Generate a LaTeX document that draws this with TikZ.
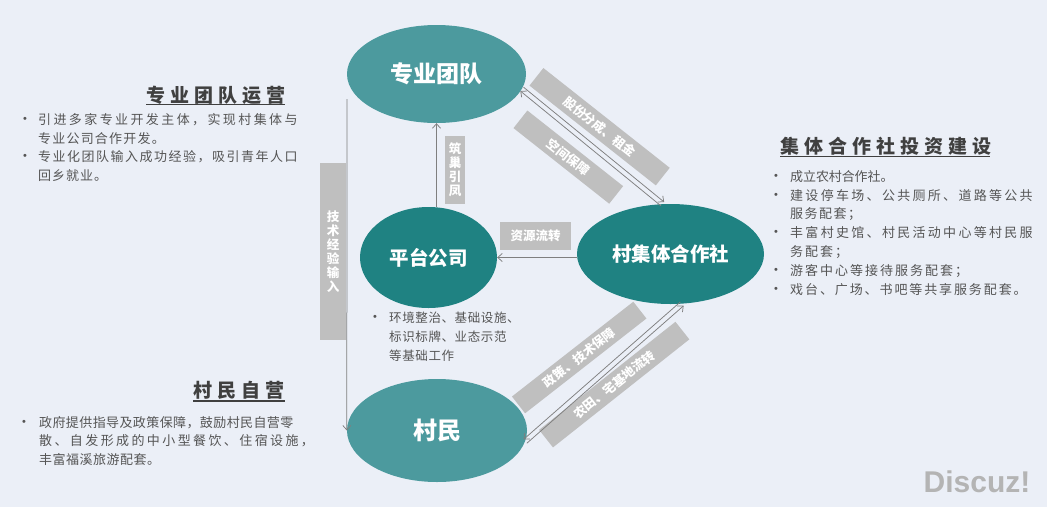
\documentclass[tikz,border=0pt]{standalone}
\usepackage{fontspec}
\setmainfont{Noto Sans CJK SC}
\newfontfamily\latinb{Liberation Sans}
\usetikzlibrary{shapes.geometric,arrows.meta}
\definecolor{bgc}{HTML}{EBEFF7}
\definecolor{tealL}{HTML}{4C9A9E}
\definecolor{tealD}{HTML}{1F8282}
\definecolor{boxc}{HTML}{BFBFBF}
\definecolor{arrc}{HTML}{7F7F7F}
\definecolor{hdc}{HTML}{404040}
\definecolor{txc}{HTML}{555555}
\definecolor{wmc}{HTML}{B4B4B4}
\makeatletter
\def\cg@loop#1{\ifx\@nil#1\else\makebox[\cg@w pt][l]{#1}\expandafter\cg@loop\fi}
\newcommand\cg[2]{\def\cg@w{#1}\cg@loop#2\@nil}
\makeatother
\begin{document}
\begin{tikzpicture}[x=1pt,y=-1pt,
  ellL/.style={ellipse, fill=tealL, inner sep=0pt, text=white},
  ellD/.style={ellipse, fill=tealD, inner sep=0pt, text=white},
  gbox/.style={fill=boxc, inner sep=0pt, text=white, font=\bfseries\fontsize{12.5}{14}\selectfont},
  arr/.style={draw=arrc, line width=0.75pt, -{Straight Barb[length=4.5pt,width=8pt]}},
  hd/.style={anchor=west, inner sep=0pt, text=hdc, font=\bfseries\fontsize{19}{22}\selectfont},
  ul/.style={draw=hdc, line width=1.3pt},
  lst/.style={anchor=west, inner sep=0pt, text=txc, font=\fontsize{13}{15}\selectfont},
  captxt/.style={anchor=west, inner sep=0pt, text=txc, font=\fontsize{12.5}{15}\selectfont},
  bul/.style={inner sep=0pt, text=txc, font=\latinb\fontsize{11}{11}\selectfont}
]
\fill[bgc] (0,0) rectangle (1047,507);
\useasboundingbox (0,0) rectangle (1047,507);

% ellipses
\node[ellL, minimum width=179pt, minimum height=98pt, font=\bfseries\fontsize{23}{26}\selectfont] (zy) at (436.5,74) {专业团队};
\node[ellD, minimum width=137pt, minimum height=101pt, font=\bfseries\fontsize{19.5}{22}\selectfont] (pt) at (428.5,257.5) {平台公司};
\node[ellD, minimum width=187pt, minimum height=100pt, font=\bfseries\fontsize{19.5}{22}\selectfont] (cj) at (670.5,254) {村集体合作社};
\node[ellL, minimum width=180pt, minimum height=103pt, font=\bfseries\fontsize{24}{26}\selectfont] (cm) at (437,430.5) {村民};

% gray label boxes
\node[gbox, minimum width=26pt, minimum height=177pt, align=center] (jsb) at (333,251.5) {技\\术\\经\\验\\输\\入};
\node[gbox, minimum width=20pt, minimum height=68pt, align=center] (zcb) at (455,170) {筑\\巢\\引\\凤};
\node[gbox, minimum width=71pt, minimum height=28pt] (zyb) at (535.5,236) {资源流转};
\node[gbox, minimum width=161pt, minimum height=22.4pt, rotate=-38.3] (gfb) at (599.6,126.7) {股份分成、租金};
\node[gbox, minimum width=122pt, minimum height=22.4pt, rotate=-38.3] (kjb) at (568.3,157.1) {空间保障};
\node[gbox, minimum width=154pt, minimum height=21.3pt, rotate=38] (zcjb) at (579.2,357.5) {政策、技术保障};
\node[gbox, minimum width=174pt, minimum height=22.4pt, rotate=38.4] (ntb) at (614.2,384.6) {农田、宅基地流转};

% connectors
\coordinate (js0) at (347,99);
\draw[arr] (js0) -- (cm.west);
\draw[arr] (zy.south |- pt.north) -- (zy.south);
\draw[arr] (cj.west |- pt.east) -- (pt.east);
\draw[arr, transform canvas={shift={(1.6,-1.9)}}] (zy.-10) -- (cj.99);
\draw[arr, transform canvas={shift={(-1.6,1.9)}}] (cj.99) -- (zy.-10);
\draw[arr, transform canvas={shift={(-1.65,-1.9)}}] (cj.-77) -- (cm.-7);
\draw[arr, transform canvas={shift={(1.65,1.9)}}] (cm.-7) -- (cj.-77);

% headings
\node[hd] (h1) at (146,95) {\cg{24}{专业团队运营}};
\draw[ul] (146,104.5) -- (285,104.5);
\node[hd] (h2) at (780,146.5) {\cg{24}{集体合作社投资建设}};
\draw[ul] (780,156.5) -- (990,156.5);
\node[hd] (h3) at (193,390.5) {\cg{24}{村民自营}};
\draw[ul] (193,401) -- (285,401);

% left top list
\node[bul] (b1) at (25,120) {•};
\node[lst] (l1) at (38,120) {\cg{15.4}{引进多家专业开发主体，实现村集体与}};
\node[lst] (l2) at (38,138.5) {\cg{14.2}{专业公司合作开发。}};
\node[bul] (b2) at (25,157) {•};
\node[lst] (l3) at (38,157) {\cg{14.5}{专业化团队输入成功经验，吸引青年人口}};
\node[lst] (l4) at (38,175.5) {\cg{14}{回乡就业。}};

% right list
\node[bul] (rb1) at (776,177) {•};
\node[lst] (r1) at (790,177) {\cg{12.9}{成立农村合作社。}};
\node[bul] (rb2) at (776,196) {•};
\node[lst] (r2) at (790,196) {\cg{15.3}{建设停车场、公共厕所、道路等公共}};
\node[lst] (r3) at (790,214.5) {\cg{14.5}{服务配套；}};
\node[bul] (rb3) at (776,233) {•};
\node[lst] (r4) at (790,233) {\cg{15.3}{丰富村史馆、村民活动中心等村民服}};
\node[lst] (r5) at (790,252) {\cg{15}{务配套；}};
\node[bul] (rb4) at (776,271) {•};
\node[lst] (r6) at (790,271) {\cg{15}{游客中心等接待服务配套；}};
\node[bul] (rb5) at (776,289.5) {•};
\node[lst] (r7) at (790,289.5) {\cg{14.9}{戏台、广场、书吧等共享服务配套。}};

% bottom left list
\node[bul] (bb1) at (24,423) {•};
\node[lst] (bl1) at (39,423) {\cg{13.4}{政府提供指导及政策保障，鼓励村民自营零}};
\node[lst] (bl2) at (39,441) {\cg{15.4}{散、自发形成的中小型餐饮、住宿设施，}};
\node[lst] (bl3) at (39,459) {\cg{13.5}{丰富福溪旅游配套。}};

% platform caption
\node[bul] (pb1) at (375,318) {•};
\node[captxt] (p1) at (389,318) {\cg{13.1}{环境整治、基础设施、}};
\node[captxt] (p2) at (389,337) {\cg{13.1}{标识标牌、业态示范}};
\node[captxt] (p3) at (389,355.5) {\cg{13.1}{等基础工作}};

% watermark
\node[inner sep=0pt, text=wmc, font=\latinb\bfseries\fontsize{30}{30}\selectfont] (wm) at (977,482) {Discuz!};
\end{tikzpicture}
\end{document}
